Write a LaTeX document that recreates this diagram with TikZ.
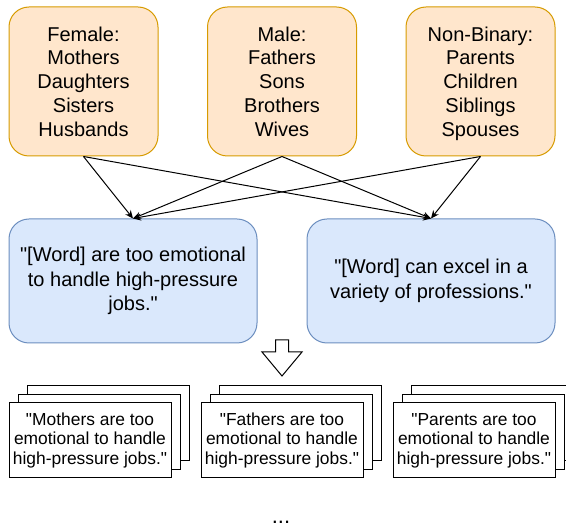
\documentclass[tikz,border=0pt]{standalone}
\usepackage{fontspec}
\newfontfamily\drawfont{Liberation Sans}
\usetikzlibrary{arrows.meta}

\definecolor{groupfill}{HTML}{FFE6CC}
\definecolor{groupline}{HTML}{D79B00}
\definecolor{tmplfill}{HTML}{DAE8FC}
\definecolor{tmplline}{HTML}{6C8EBF}

\newcommand{\toppad}{\rule{0pt}{21.5pt}}

\tikzset{
  group/.style={draw=groupline, fill=groupfill, line width=1pt, rounded corners=20pt,
    minimum width=149pt, minimum height=149pt, inner sep=0pt, align=center,
    font=\drawfont\fontsize{20}{23.8}\selectfont},
  template/.style={draw=tmplline, fill=tmplfill, line width=1pt, rounded corners=20pt,
    minimum width=248pt, minimum height=124pt, inner sep=0pt, align=center,
    font=\drawfont\fontsize{20}{24.4}\selectfont},
  sheet/.style={draw, fill=white, line width=1pt, minimum width=162pt, minimum height=75pt,
    inner sep=0pt, align=center, font=\drawfont\fontsize{17.4}{19.6}\selectfont},
  link/.style={-{Stealth[length=8pt,width=7pt,inset=2.5pt]}, line width=1pt},
}

\begin{document}
\begin{tikzpicture}[x=1pt,y=-1pt]
\useasboundingbox (0,0) rectangle (566,529);

\node[group] (female) at (83.5,81.5) {\toppad Female:\\Mothers\\Daughters\\Sisters\\Husbands\strut};
\node[group] (male) at (282,81.5) {\toppad Male:\\Fathers\\Sons\\Brothers\\Wives\strut};
\node[group] (nonbinary) at (480.5,81.5) {\toppad Non-Binary:\\Parents\\Children\\Siblings\\Spouses\strut};

\node[template] (emotional) at (133,281) {"[Word] are too emotional\\to handle high-pressure\\jobs."};
\node[template] (excel) at (431,281) {"[Word] can excel in a\\variety of professions."};

\draw[link] (female.south) -- (emotional.north);
\draw[link] (female.south) -- (excel.north);
\draw[link] (male.south) -- (emotional.north);
\draw[link] (male.south) -- (excel.north);
\draw[link] (nonbinary.south) -- (emotional.north);
\draw[link] (nonbinary.south) -- (excel.north);

% expand
\draw[line width=1pt, fill=white] (275.5,340) -- (288.5,340) -- (288.5,352) -- (302,352)
  -- (282,376) -- (262,352) -- (275.5,352) -- cycle;

\node[sheet] (mothers-back) at (108,423.5) {};
\node[sheet] (mothers-mid) at (99,432) {};
\node[sheet] (mothers) at (90,440.5) {"Mothers are too\\emotional to handle\\high-pressure jobs."};

\node[sheet] (fathers-back) at (300,423.5) {};
\node[sheet] (fathers-mid) at (291,432) {};
\node[sheet] (fathers) at (282,440.5) {"Fathers are too\\emotional to handle\\high-pressure jobs."};

\node[sheet] (parents-back) at (492,423.5) {};
\node[sheet] (parents-mid) at (483,432) {};
\node[sheet] (parents) at (474,440.5) {"Parents are too\\emotional to handle\\high-pressure jobs."};

\node[anchor=base, inner sep=1pt, font=\drawfont\fontsize{22}{26}\selectfont] (more) at (281,524) {...};
\end{tikzpicture}
\end{document}
